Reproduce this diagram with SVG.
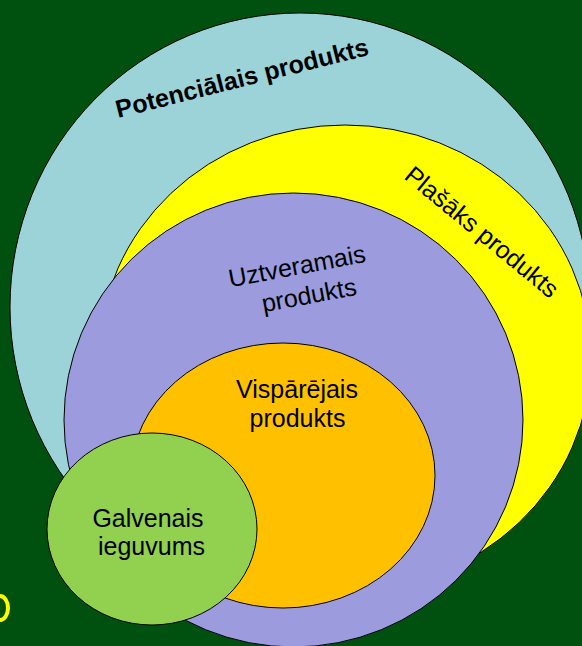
<svg xmlns="http://www.w3.org/2000/svg" width="582" height="646" viewBox="0 0 582 646">
<style>
.sh{stroke:#000;stroke-width:1}
.t{font-family:"Liberation Sans",Arial,sans-serif;font-size:25px;fill:#000}
.b{font-weight:bold}
.m{text-anchor:middle}
</style>
<rect x="0" y="0" width="582" height="646" fill="#005010"/>
<path d="M0,596 A8,12 0 0 1 0,620" fill="none" stroke="#FFFF00" stroke-width="4"/>
<g id="potencialais">
<ellipse class="sh" cx="300" cy="307" rx="290" ry="294" fill="#9CD3D8"/>
<text class="t b" x="118" y="118" transform="rotate(-14.1 118 118)">Potenciālais produkts</text>
</g>
<g id="plasaks">
<ellipse class="sh" cx="345" cy="358" rx="246" ry="233" fill="#FFFF00"/>
<text class="t" x="403" y="178" transform="rotate(39.5 403 178)">Plašāks produkts</text>
</g>
<g id="uztveramais">
<ellipse class="sh" cx="293.5" cy="420" rx="229.5" ry="227" fill="#9B9BDD"/>
<g transform="translate(298.5 274.5) rotate(-10.6)">
<text class="t m" x="0" y="0">Uztveramais</text>
<text class="t m" x="6.5" y="30.7">produkts</text>
</g>
</g>
<g id="visparejais">
<ellipse class="sh" cx="283" cy="475.5" rx="152" ry="132.5" fill="#FFC000"/>
<text class="t m" x="297" y="398">Vispārējais</text>
<text class="t m" x="297.5" y="427">produkts</text>
</g>
<g id="galvenais">
<ellipse class="sh" cx="152" cy="529" rx="105" ry="96" fill="#92D050"/>
<text class="t m" x="148" y="527">Galvenais</text>
<text class="t m" x="151.5" y="555">ieguvums</text>
</g>
<g id="connectors"/>
</svg>
